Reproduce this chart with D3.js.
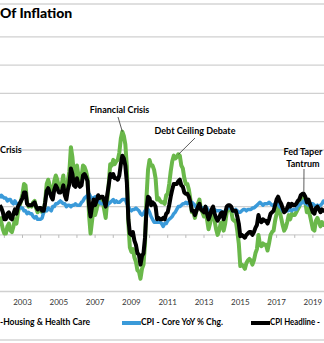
<!DOCTYPE html>
<html>
<head>
<meta charset="utf-8">
<script src="https://cdn.jsdelivr.net/npm/d3@7"></script>
<style>
  html, body { margin: 0; padding: 0; background: #fff; }
  svg { display: block; font-family: Lato, "Liberation Sans", sans-serif; }
</style>
</head>
<body>
<svg id="chart" width="324" height="343"></svg>
<script>
// monthly YoY % change, Oct 2001 .. Sep 2019
const firstMonth = { year: 2001, month: 10 }

const headline = [
  2.1, 1.9, 1.6,
  1.1, 1.1, 1.5, 1.6, 1.2, 1.1, 1.5, 1.8, 1.5, 2.0, 2.2, 2.4,
  2.6, 3.0, 3.0, 2.2, 2.1, 2.1, 2.1, 2.2, 2.3, 2.0, 1.8, 1.9,
  1.9, 1.7, 1.7, 2.3, 3.1, 3.3, 3.0, 2.7, 2.5, 3.2, 3.5, 3.3,
  3.0, 3.0, 3.1, 3.5, 2.8, 2.5, 3.2, 3.6, 4.7, 4.3, 3.5, 3.4,
  4.0, 3.6, 3.4, 3.5, 4.2, 4.3, 4.1, 3.8, 2.1, 1.3, 2.0, 2.5,
  2.1, 2.4, 2.8, 2.6, 2.7, 2.7, 2.4, 2.0, 2.8, 3.5, 4.3, 4.1,
  4.3, 4.0, 4.0, 3.9, 4.2, 5.0, 5.6, 5.4, 4.9, 3.7, 1.1, 0.1,
  0.0, 0.2, -0.4, -0.7, -1.3, -1.4, -2.1, -1.5, -1.3, -0.2, 1.8, 2.7,
  2.6, 2.1, 2.3, 2.2, 2.0, 1.1, 1.2, 1.1, 1.1, 1.2, 1.1, 1.5,
  1.6, 2.1, 2.7, 3.2, 3.6, 3.6, 3.6, 3.8, 3.9, 3.5, 3.4, 3.0,
  2.9, 2.9, 2.7, 2.3, 1.7, 1.7, 1.4, 1.7, 2.0, 2.2, 1.8, 1.7,
  1.6, 2.0, 1.5, 1.1, 1.4, 1.8, 2.0, 1.5, 1.2, 1.0, 1.2, 1.5,
  1.6, 1.1, 1.5, 2.0, 2.1, 2.1, 2.0, 1.7, 1.7, 1.7, 1.3, 0.8,
  -0.1, 0.0, -0.1, -0.2, 0.0, 0.1, 0.2, 0.2, 0.0, 0.2, 0.5, 0.7,
  1.4, 1.0, 0.9, 1.1, 1.0, 1.0, 0.8, 1.1, 1.5, 1.6, 1.7, 2.1,
  2.5, 2.7, 2.4, 2.2, 1.9, 1.6, 1.7, 1.9, 2.2, 2.0, 2.2, 2.1,
  2.1, 2.2, 2.4, 2.5, 2.8, 2.9, 2.9, 2.7, 2.3, 2.5, 2.2, 1.9,
  1.6, 1.5, 1.9, 2.0, 1.8, 1.6, 1.8, 1.7, 1.7
]

const core = [
  2.6, 2.8, 2.7,
  2.6, 2.6, 2.4, 2.5, 2.5, 2.3, 2.2, 2.4, 2.2, 2.2, 2.0, 1.9,
  1.9, 1.7, 1.7, 1.5, 1.6, 1.5, 1.5, 1.3, 1.2, 1.3, 1.1, 1.1,
  1.1, 1.2, 1.6, 1.8, 1.7, 1.9, 1.8, 1.7, 2.0, 2.0, 2.2, 2.2,
  2.3, 2.4, 2.3, 2.2, 2.2, 2.0, 2.1, 2.1, 2.0, 2.1, 2.1, 2.2,
  2.1, 2.1, 2.1, 2.3, 2.4, 2.6, 2.7, 2.8, 2.9, 2.7, 2.6, 2.6,
  2.7, 2.7, 2.5, 2.3, 2.2, 2.2, 2.2, 2.1, 2.1, 2.2, 2.3, 2.4,
  2.5, 2.3, 2.4, 2.3, 2.3, 2.4, 2.5, 2.5, 2.5, 2.2, 2.0, 1.8,
  1.7, 1.8, 1.8, 1.9, 1.8, 1.7, 1.5, 1.4, 1.5, 1.7, 1.7, 1.8,
  1.6, 1.3, 1.1, 0.9, 0.9, 0.9, 0.9, 0.9, 0.8, 0.6, 0.8, 0.8,
  1.0, 1.1, 1.2, 1.3, 1.5, 1.6, 1.8, 2.0, 2.0, 2.1, 2.2, 2.2,
  2.3, 2.2, 2.3, 2.3, 2.3, 2.2, 2.1, 1.9, 2.0, 2.0, 1.9, 1.9,
  1.9, 2.0, 1.9, 1.7, 1.7, 1.6, 1.7, 1.8, 1.7, 1.7, 1.7, 1.7,
  1.6, 1.6, 1.7, 1.8, 2.0, 1.9, 1.9, 1.7, 1.7, 1.8, 1.7, 1.6,
  1.6, 1.7, 1.8, 1.8, 1.7, 1.8, 1.8, 1.8, 1.9, 1.9, 2.0, 2.1,
  2.2, 2.3, 2.2, 2.1, 2.2, 2.2, 2.2, 2.3, 2.2, 2.1, 2.1, 2.2,
  2.3, 2.2, 2.0, 1.9, 1.7, 1.7, 1.7, 1.7, 1.7, 1.8, 1.7, 1.8,
  1.8, 1.8, 2.1, 2.1, 2.2, 2.3, 2.4, 2.2, 2.2, 2.1, 2.2, 2.2,
  2.2, 2.1, 2.0, 2.1, 2.0, 2.1, 2.2, 2.4, 2.4
]

const exHousingHealth = [
  1.3, 0.9, 0.4,
  0.1, 0.1, 0.6, 0.8, 0.3, 0.2, 0.6, 1.1, 0.8, 1.6, 2.0, 2.4,
  2.9, 3.6, 3.5, 2.3, 2.0, 2.1, 2.0, 2.3, 2.4, 1.9, 1.6, 1.8,
  1.9, 1.6, 1.6, 2.4, 3.6, 3.9, 3.5, 3.1, 2.8, 3.8, 4.2, 3.9,
  3.4, 3.4, 3.6, 4.2, 3.1, 2.8, 3.8, 4.5, 6.2, 5.5, 4.3, 4.0,
  4.9, 4.2, 3.9, 4.1, 4.9, 4.8, 4.5, 4.0, 1.4, 0.1, 1.0, 1.9,
  1.4, 1.8, 2.4, 2.2, 2.4, 2.4, 1.8, 1.2, 2.4, 3.6, 5.0, 4.9,
  5.3, 5.0, 5.2, 5.3, 5.8, 6.8, 7.3, 7.0, 6.4, 4.8, 0.8, -0.9,
  -1.2, -1.0, -1.6, -1.9, -2.5, -2.6, -3.1, -2.4, -2.1, -0.6, 2.7, 4.6,
  5.3, 4.9, 4.9, 4.6, 4.0, 2.5, 2.6, 2.4, 2.3, 2.3, 2.2, 2.8,
  2.9, 3.6, 4.5, 5.2, 5.6, 5.4, 5.5, 5.7, 5.6, 4.9, 4.7, 4.0,
  3.6, 3.6, 3.2, 2.5, 1.6, 1.6, 1.2, 1.7, 2.2, 2.5, 1.8, 1.6,
  1.3, 1.9, 1.1, 0.4, 0.8, 1.5, 1.8, 1.0, 0.4, 0.0, 0.3, 0.8,
  0.9, 0.3, 0.8, 1.6, 1.8, 1.9, 1.7, 1.1, 1.0, 1.0, 0.3, -0.6,
  -2.2, -2.1, -2.2, -2.4, -2.0, -1.8, -1.7, -1.8, -2.1, -1.8, -1.3, -1.0,
  0.0, -0.7, -0.8, -0.6, -0.7, -0.7, -1.1, -0.6, 0.0, 0.2, 0.3, 1.0,
  1.5, 2.2, 1.7, 1.2, 0.7, 0.3, 0.5, 0.9, 1.4, 1.1, 1.5, 1.4,
  1.4, 1.6, 1.8, 2.0, 2.5, 2.7, 2.6, 2.3, 1.6, 2.0, 1.4, 0.9,
  0.4, 0.3, 1.0, 1.2, 0.9, 0.6, 0.9, 0.7, 0.7
]

const yearLabels = ["2003", "2005", "2007", "2009", "2011", "2013", "2015", "2017", "2019"]
const gridValues = [-4, -2, 0, 2, 4, 6, 8, 10, 12, 14]

const annotations = [
  { lines: ["Financial Crisis"], year: 2008.5, value: 7.3, tx: 119.5, ty: 111, from: [118, 117] },
  { lines: ["Debt Ceiling Debate"], year: 2011.6, value: 5.7, tx: 195, ty: 132, from: [195, 138] },
  { lines: ["Fed Taper", "Tantrum"], year: 2018.5, value: 3.0, tx: 303, ty: 153, from: [304, 169] }
]

const width = 324, height = 343
const svg = d3.select("#chart")

const x = d3.scaleLinear().domain([2003, 2019]).range([22.5, 312.9])
const y = d3.scaleLinear().domain([-4, 14]).range([291.5, 36.8])

const toYear = i => firstMonth.year + (firstMonth.month - 1 + i) / 12

// frame lines
svg.append("line")
  .attr("x1", 0).attr("x2", width).attr("y1", 4).attr("y2", 4)
  .attr("stroke", "#d4d4d4").attr("stroke-width", 1.5)
svg.append("line")
  .attr("x1", 0).attr("x2", width).attr("y1", 340).attr("y2", 340)
  .attr("stroke", "#d4d4d4").attr("stroke-width", 1.5)

svg.append("text")
  .attr("x", 0).attr("y", 18)
  .attr("font-size", 14).attr("font-weight", 900)
  .attr("fill", "#000")
  .text("Of Inflation")

// horizontal gridlines
svg.append("g")
  .selectAll("line")
  .data(gridValues)
  .join("line")
  .attr("x1", 0).attr("x2", width)
  .attr("y1", d => y(d)).attr("y2", d => y(d))
  .attr("stroke", "#d0d0d0")
  .attr("stroke-width", 1.3)

// x axis sits on the zero line, labels at the bottom
const years = d3.range(2002, 2021)
svg.append("g")
  .selectAll("line")
  .data(years)
  .join("line")
  .attr("x1", d => x(d)).attr("x2", d => x(d))
  .attr("y1", y(0)).attr("y2", y(0) + 3)
  .attr("stroke", "#bbb")

svg.append("g")
  .selectAll("text")
  .data(yearLabels)
  .join("text")
  .attr("x", d => x(+d))
  .attr("y", 305)
  .attr("text-anchor", "middle")
  .attr("font-size", 8)
  .attr("fill", "#333")
  .text(d => d)

const line = d3.line()
  .x((d, i) => x(toYear(i)))
  .y(d => y(d))

const series = [
  { values: exHousingHealth, color: "#6ab84a", w: 4 },
  { values: core, color: "#3a9ad9", w: 3.5 },
  { values: headline, color: "#000000", w: 4 }
]

svg.append("g")
  .selectAll("path")
  .data(series)
  .join("path")
  .attr("fill", "none")
  .attr("stroke", d => d.color)
  .attr("stroke-width", d => d.w)
  .attr("stroke-linejoin", "round")
  .attr("d", d => line(d.values))

// annotations
const notes = svg.append("g")
notes.selectAll("line")
  .data(annotations)
  .join("line")
  .attr("x1", d => d.from[0]).attr("y1", d => d.from[1])
  .attr("x2", d => x(d.year)).attr("y2", d => y(d.value))
  .attr("stroke", "#333").attr("stroke-width", 0.8)

annotations.forEach(a => {
  a.lines.forEach((t, k) => {
    notes.append("text")
      .attr("x", a.tx).attr("y", a.ty + k * 12)
      .attr("text-anchor", "middle")
      .attr("dominant-baseline", "middle")
      .attr("font-size", 9).attr("font-weight", 700)
      .text(t)
  })
})

// label of an earlier event, only its tail is in view
svg.append("rect")
  .attr("x", 0).attr("y", 145).attr("width", 20).attr("height", 10)
  .attr("fill", "#fff")
svg.append("text")
  .attr("x", 0).attr("y", 150.5)
  .attr("dominant-baseline", "middle")
  .attr("font-size", 9).attr("font-weight", 700)
  .text("Crisis")

// legend
const legendItems = [
  { label: "-Housing & Health Care", color: null, x0: 0, len: 90 },
  { label: "CPI - Core YoY % Chg.", color: "#3a9ad9", x0: 122, len: 82 },
  { label: "CPI Headline -", color: "#000000", x0: 251, len: 50 }
]
const legend = svg.append("g").attr("transform", "translate(0,323)")
legendItems.forEach(d => {
  let tx = d.x0
  if (d.color) {
    legend.append("line")
      .attr("x1", d.x0).attr("x2", d.x0 + 19)
      .attr("stroke", d.color).attr("stroke-width", 4)
    tx = d.x0 + 19
  }
  legend.append("text")
    .attr("x", tx)
    .attr("dominant-baseline", "middle")
    .attr("font-size", 8.5).attr("font-weight", 700)
    .attr("textLength", d.len)
    .attr("lengthAdjust", "spacingAndGlyphs")
    .text(d.label)
})
</script>
</body>
</html>
